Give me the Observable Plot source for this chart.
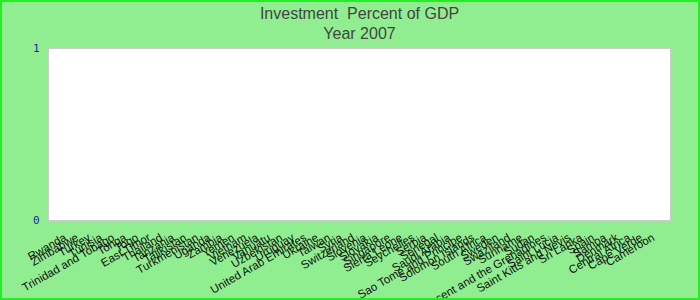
<!DOCTYPE html>
<html>
<head>
<meta charset="utf-8">
<script src="https://cdn.jsdelivr.net/npm/d3@7"></script>
<script src="https://cdn.jsdelivr.net/npm/@observablehq/plot@0.6"></script>
<style>
  html, body { margin: 0; padding: 0; }
  body { width: 700px; height: 300px; overflow: hidden; background: #90ee90; position: relative; }
  #chart { position: absolute; left: 0; top: 0; width: 700px; height: 300px; }
  #border { position: absolute; left: 0; top: 0; width: 696px; height: 296px; border: 2px solid #22ee22; pointer-events: none; }
</style>
</head>
<body>
<div id="chart"></div>
<div id="border"></div>
<script>
const title = "Investment  Percent of GDP";
const subtitle = "Year 2007";
const countries = [
  "Rwanda", "Zimbabwe", "Turkey", "Tunisia", "Trinidad and Tobago", "Tonga", "Togo",
  "East Timor", "Thailand", "Tanzania", "Tajikistan", "Turkmenistan", "Uganda", "Zambia",
  "Yemen", "Vietnam", "Venezuela", "Vanuatu", "Uzbekistan", "Uruguay",
  "United Arab Emirates", "Ukraine", "Taiwan", "Syria", "Switzerland", "Slovenia",
  "Slovakia", "Singapore", "Sierra Leone", "Seychelles", "Serbia", "Senegal",
  "Saudi Arabia", "Sao Tome and Principe", "Solomon Islands", "South Africa", "Sweden",
  "Swaziland", "Suriname", "Sudan", "Saint Vincent and the Grenadines", "Saint Lucia",
  "Saint Kitts and Nevis", "Sri Lanka", "Spain", "Samoa", "Denmark",
  "Central Africa", "Cape Verde", "Cameroon"
];
// No investment values are shown for 2007: every bar is empty
const values = countries.map(() => null);
const yTicks = [0, 1];

const data = countries.map((c, i) => ({country: c, value: values[i]}));

const plot = Plot.plot({
  width: 700,
  height: 300,
  marginTop: 48,
  marginLeft: 48,
  marginRight: 30,
  marginBottom: 80,
  style: {background: "transparent", fontFamily: "Liberation Sans, Arial, sans-serif"},
  x: {domain: countries, padding: 0.2, label: null},
  y: {domain: [0, 1], label: null},
  marks: [
    Plot.frame({fill: "white", stroke: "#cccccc"}),
    Plot.barY(data.filter(d => d.value != null), {x: "country", y: "value", fill: "#4a7ebb"}),
    Plot.axisX({
      tickSize: 0, tickPadding: 16, tickRotate: -30, fontSize: 11.5, fill: "#111",
      textAnchor: "end", label: null
    }),
    Plot.axisY({
      ticks: yTicks, tickSize: 0, tickPadding: 9, fontSize: 11, label: null,
      fill: "#1c1ca8", fontFamily: "DejaVu Sans Mono, monospace", tickFormat: d3.format("d")
    }),
    Plot.text([title], {
      frameAnchor: "top", dy: -41, text: d => d, fontSize: 16, fill: "#444",
      fontFamily: "Liberation Sans Narrow, Arial Narrow, sans-serif"
    }),
    Plot.text([subtitle], {
      frameAnchor: "top", dy: -21, text: d => d, fontSize: 16, fill: "#444",
      fontFamily: "Liberation Sans Narrow, Arial Narrow, sans-serif"
    })
  ]
});
plot.style.position = "absolute";
plot.style.left = "0";
plot.style.top = "0";
document.getElementById("chart").appendChild(plot);
</script>
</body>
</html>
